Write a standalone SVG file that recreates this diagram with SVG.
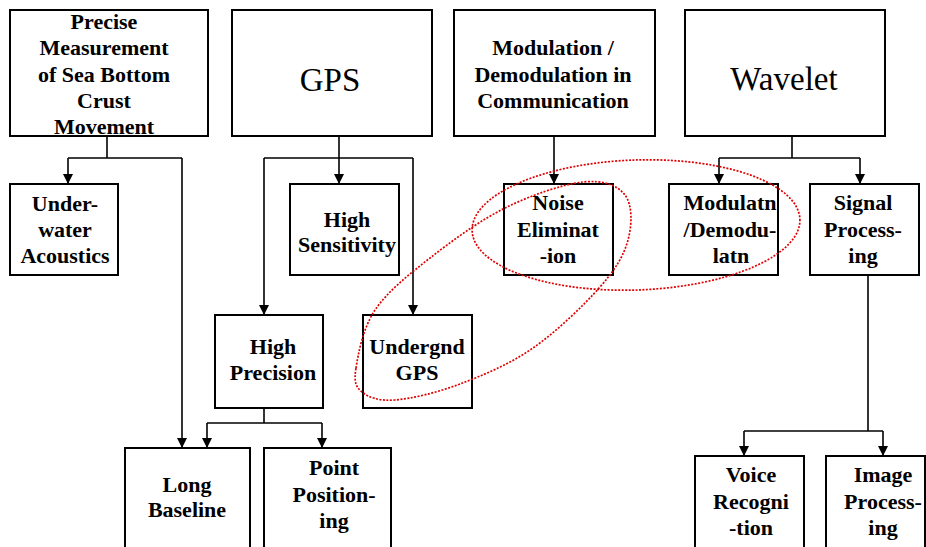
<svg xmlns="http://www.w3.org/2000/svg" width="926" height="547" viewBox="0 0 926 547">
<style>
.box{fill:#fff;stroke:#000;stroke-width:2}
.t{font-family:"Liberation Serif","Times New Roman",serif;font-weight:bold;font-size:22px;text-anchor:middle;fill:#000}
.big{font-family:"Liberation Serif","Times New Roman",serif;font-size:33px;text-anchor:middle;fill:#000}
.c{fill:none;stroke:#000;stroke-width:1.6}
.red{fill:none;stroke:#e00000;stroke-width:1.7;stroke-dasharray:2 1.5}
</style>
<defs>
<marker id="ah" viewBox="0 0 10 10" refX="10" refY="5" markerUnits="userSpaceOnUse" markerWidth="11" markerHeight="10" orient="auto">
<path d="M0,0 L10,5 L0,10 z" fill="#000"/>
</marker>
</defs>
<rect width="926" height="547" fill="#fff"/>
<g id="connectors">
<path class="c" d="M107,136 V158"/>
<path class="c" d="M68,158 H182"/>
<path class="c" d="M68,158 V184" marker-end="url(#ah)"/>
<path class="c" d="M182,158 V448" marker-end="url(#ah)"/>
<path class="c" d="M339,136 V184" marker-end="url(#ah)"/>
<path class="c" d="M264,158 H413"/>
<path class="c" d="M264,158 V315" marker-end="url(#ah)"/>
<path class="c" d="M413,158 V315" marker-end="url(#ah)"/>
<path class="c" d="M264,408 V423"/>
<path class="c" d="M207,423 H322"/>
<path class="c" d="M207,423 V448" marker-end="url(#ah)"/>
<path class="c" d="M322,423 V448" marker-end="url(#ah)"/>
<path class="c" d="M554,136 V184" marker-end="url(#ah)"/>
<path class="c" d="M792,136 V158"/>
<path class="c" d="M719,158 H860"/>
<path class="c" d="M719,158 V184" marker-end="url(#ah)"/>
<path class="c" d="M860,158 V184" marker-end="url(#ah)"/>
<path class="c" d="M868,275 V431"/>
<path class="c" d="M744,431 H883"/>
<path class="c" d="M744,431 V456" marker-end="url(#ah)"/>
<path class="c" d="M883,431 V456" marker-end="url(#ah)"/>
</g>
<g id="n-precise">
<rect class="box" x="10" y="10" width="198" height="126"/>
<text class="t" x="104" y="29">Precise</text>
<text class="t" x="104" y="55">Measurement</text>
<text class="t" x="104" y="82">of Sea Bottom</text>
<text class="t" x="104" y="108">Crust</text>
<text class="t" x="104" y="134">Movement</text>
</g>
<g id="n-gps">
<rect class="box" x="232" y="10" width="200" height="126"/>
<text class="big" x="330" y="91">GPS</text>
</g>
<g id="n-modulation">
<rect class="box" x="454" y="10" width="201" height="126"/>
<text class="t" x="553" y="55">Modulation /</text>
<text class="t" x="553" y="82">Demodulation in</text>
<text class="t" x="553" y="108">Communication</text>
</g>
<g id="n-wavelet">
<rect class="box" x="685" y="10" width="200" height="126"/>
<text class="big" x="784" y="90">Wavelet</text>
</g>
<g id="n-underwater">
<rect class="box" x="10" y="184" width="108" height="91"/>
<text class="t" x="65" y="211">Under-</text>
<text class="t" x="65" y="237">water</text>
<text class="t" x="65" y="263">Acoustics</text>
</g>
<g id="n-sensitivity">
<rect class="box" x="290" y="184" width="109" height="91"/>
<text class="t" x="347" y="227">High</text>
<text class="t" x="347" y="252">Sensitivity</text>
</g>
<g id="n-noise">
<rect class="box" x="504" y="184" width="109" height="91"/>
<text class="t" x="558" y="210">Noise</text>
<text class="t" x="558" y="237">Eliminat</text>
<text class="t" x="558" y="263">-ion</text>
</g>
<g id="n-modulatn">
<rect class="box" x="669" y="184" width="109" height="91"/>
<text class="t" x="730" y="210">Modulatn</text>
<text class="t" x="730" y="237">/Demodu-</text>
<text class="t" x="731" y="263">latn</text>
</g>
<g id="n-signal">
<rect class="box" x="810" y="184" width="109" height="91"/>
<text class="t" x="863" y="210">Signal</text>
<text class="t" x="863" y="237">Process-</text>
<text class="t" x="863" y="263">ing</text>
</g>
<g id="n-precision">
<rect class="box" x="215" y="315" width="108" height="93"/>
<text class="t" x="273" y="354">High</text>
<text class="t" x="273" y="380">Precision</text>
</g>
<g id="n-undergnd">
<rect class="box" x="363" y="315" width="109" height="93"/>
<text class="t" x="417" y="354">Undergnd</text>
<text class="t" x="417" y="380">GPS</text>
</g>
<g id="n-baseline">
<rect class="box" x="125" y="448" width="125" height="120"/>
<text class="t" x="187" y="492">Long</text>
<text class="t" x="187" y="517">Baseline</text>
</g>
<g id="n-point">
<rect class="box" x="264" y="448" width="127" height="120"/>
<text class="t" x="334" y="475">Point</text>
<text class="t" x="334" y="502">Position-</text>
<text class="t" x="334" y="528">ing</text>
</g>
<g id="n-voice">
<rect class="box" x="695" y="456" width="109" height="110"/>
<text class="t" x="751" y="482">Voice</text>
<text class="t" x="751" y="509">Recogni</text>
<text class="t" x="751" y="535">-tion</text>
</g>
<g id="n-image">
<rect class="box" x="826" y="456" width="99" height="110"/>
<text class="t" x="883" y="482">Image</text>
<text class="t" x="883" y="509">Process-</text>
<text class="t" x="883" y="535">ing</text>
</g>
<g id="annotations">
<ellipse class="red" cx="636" cy="225" rx="164" ry="65" transform="rotate(-2 636 225)"/>
<path class="red" d="M356,368 C358.2,354.3 362.7,328.3 375,310 C387.3,291.7 408.3,275 430,258 C451.7,241 479.5,220.7 505,208 C530.5,195.3 563,184.2 583,182 C603,179.8 617.5,185.3 625,195 C632.5,204.7 632.2,224.7 628,240 C623.8,255.3 615.8,269 600,287 C584.2,305 556.3,331.8 533,348 C509.7,364.2 483,375.3 460,384 C437,392.7 411.3,398.7 395,400 C378.7,401.3 368.5,397.3 362,392 C355.5,386.7 353.8,381.7 356,368 Z"/>
</g>
</svg>
